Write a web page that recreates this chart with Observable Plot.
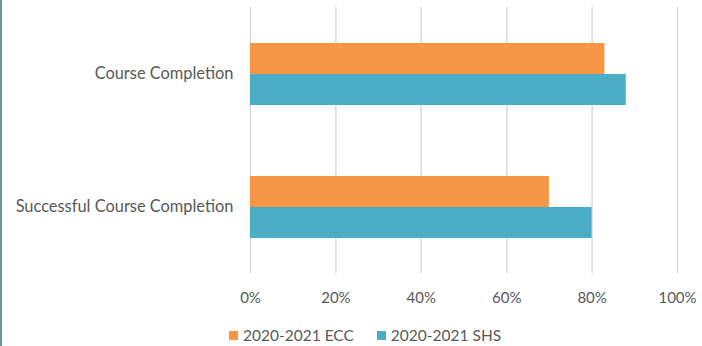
<!DOCTYPE html>
<html>
<head>
<meta charset="utf-8">
<script src="https://cdn.jsdelivr.net/npm/d3@7"></script>
<script src="https://cdn.jsdelivr.net/npm/@observablehq/plot@0.6"></script>
<style>
  html, body { margin: 0; padding: 0; background: #fff; }
  body { width: 702px; height: 346px; position: relative; overflow: hidden; font-family: Lato, "Open Sans", sans-serif; color: #595959; }
  #edge { position: absolute; left: 0; top: 0; width: 2px; height: 346px; background: #5b9aa1; }
  #legend { display: flex; align-items: center; height: 22px; padding-left: 229px; font-size: 15.5px; }
  .item { display: flex; align-items: center; }
  .item + .item { margin-left: 23px; }
  .swatch { width: 9px; height: 9px; margin-right: 5px; }
  #chart svg [aria-label^="x-axis"] { font-size: 15px; }
</style>
</head>
<body>
<div id="edge"></div>
<div id="chart"></div>
<div id="legend"></div>
<script>
// Completion rates by measure, for the two 2020-2021 cohorts
const categories = ["Course Completion", "Successful Course Completion"];
const series = ["2020-2021 ECC", "2020-2021 SHS"];
const eccValues = [0.83, 0.70];
const shsValues = [0.88, 0.80];
const xTicks = [0, 0.2, 0.4, 0.6, 0.8, 1.0];
const colors = ["#F79646", "#4BACC6"];

const rows = categories.flatMap((c, i) => [
  {category: c, series: series[0], value: eccValues[i]},
  {category: c, series: series[1], value: shsValues[i]}
]);

const chart = Plot.plot({
  width: 702,
  height: 324,
  marginTop: 7,
  marginBottom: 51,
  marginLeft: 250,
  marginRight: 25,
  style: {fontFamily: "Lato, 'Open Sans', sans-serif", fontSize: "16.4px", color: "#595959", background: "#fff"},
  x: {
    domain: [0, 1],
    ticks: xTicks,
    tickFormat: d3.format(".0%"),
    tickSize: 0,
    tickPadding: 19,
    label: null
  },
  fy: {
    domain: categories,
    padding: 0,
    axis: "left",
    tickSize: 0,
    tickPadding: 17,
    label: null
  },
  y: {
    domain: series,
    axis: null,
    paddingInner: 0,
    paddingOuter: 1.11
  },
  color: {domain: series, range: colors},
  marks: [
    Plot.ruleX(xTicks, {stroke: "#d9d9d9", strokeWidth: 1.5, strokeOpacity: 1}),
    Plot.barX(rows, {x: "value", y: "series", fy: "category", fill: "series"})
  ]
});
document.getElementById("chart").appendChild(chart);

const legend = document.getElementById("legend");
series.forEach((s, i) => {
  const item = document.createElement("div");
  item.className = "item";
  const sw = document.createElement("div");
  sw.className = "swatch";
  sw.style.background = colors[i];
  const label = document.createElement("span");
  label.textContent = s;
  item.appendChild(sw);
  item.appendChild(label);
  legend.appendChild(item);
});
</script>
</body>
</html>
